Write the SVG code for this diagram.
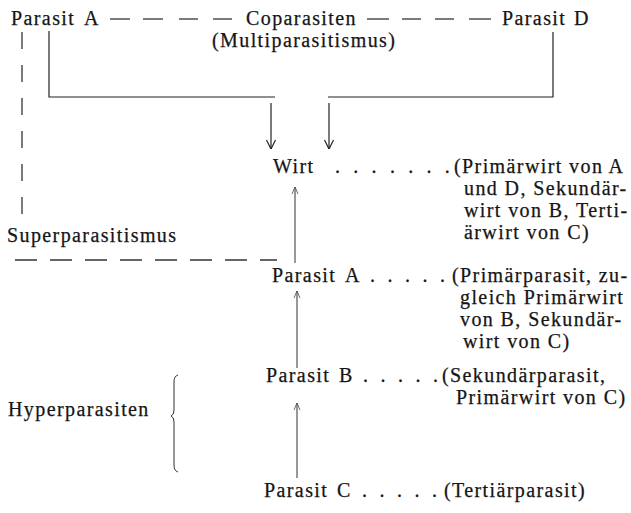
<svg xmlns="http://www.w3.org/2000/svg" width="631" height="513" viewBox="0 0 631 513">
<style>
text{font-family:"Liberation Serif","Times New Roman",serif;font-size:20px;letter-spacing:1.4px;fill:#151515;stroke:#151515;stroke-width:0.25}
.ln{stroke:#222;stroke-width:1.2;fill:none}
.thin{stroke:#333;stroke-width:1;fill:none}
.dsh{stroke:#333;stroke-width:1.3;fill:none}
</style>
<defs>
<marker id="hd" viewBox="0 0 10 10" refX="10" refY="5" markerWidth="10" markerHeight="10" markerUnits="userSpaceOnUse" orient="auto">
<path d="M1,0.5 L10,5 L1,9.5" fill="none" stroke="#222" stroke-width="1.2"/>
</marker>
<marker id="hu" viewBox="0 0 10 8" refX="10" refY="4" markerWidth="10" markerHeight="8" markerUnits="userSpaceOnUse" orient="auto">
<path d="M3,1 L10,4 L3,7" fill="none" stroke="#444" stroke-width="0.8"/>
</marker>
</defs>
<rect width="631" height="513" fill="#fff"/>

<g id="connectors">
<line class="dsh" x1="110" y1="19" x2="130" y2="19"/>
<line class="dsh" x1="143" y1="19" x2="163" y2="19"/>
<line class="dsh" x1="179" y1="19" x2="198" y2="19"/>
<line class="dsh" x1="213" y1="19" x2="232" y2="19"/>
<line class="dsh" x1="367" y1="19" x2="389" y2="19"/>
<line class="dsh" x1="402" y1="19" x2="421" y2="19"/>
<line class="dsh" x1="435" y1="19" x2="454" y2="19"/>
<line class="dsh" x1="469" y1="19" x2="491" y2="19"/>
<line class="dsh" x1="22" y1="32" x2="22" y2="222" stroke-dasharray="17 16"/>
<line class="dsh" x1="15" y1="260" x2="277" y2="260" stroke-dasharray="22 13"/>
<polyline class="ln" points="49,31 49,97 275,97"/>
<polyline class="ln" points="328,97 553,97 553,32"/>
<line class="ln" x1="271" y1="103" x2="271" y2="149" marker-end="url(#hd)"/>
<line class="ln" x1="329" y1="103" x2="329" y2="149" marker-end="url(#hd)"/>
<line class="thin" x1="295" y1="263" x2="295" y2="187" marker-end="url(#hu)"/>
<line class="thin" x1="297" y1="368" x2="297" y2="291" marker-end="url(#hu)"/>
<line class="thin" x1="297" y1="478" x2="297" y2="403" marker-end="url(#hu)"/>
<path class="thin" d="M178,375 Q174,376 174,382 L174,410 Q174,415 171,416 Q174,417 174,422 L174,465 Q174,471 178,472"/>
</g>

<g id="top-parasit-a"><text x="11" y="25">Parasit</text><text x="84" y="25">A</text></g>
<g id="coparasiten"><text x="246" y="25">Coparasiten</text><text x="212" y="47">(Multiparasitismus)</text></g>
<g id="top-parasit-d"><text x="502" y="25">Parasit</text><text x="574" y="25">D</text></g>
<g id="superparasitismus"><text x="7" y="242">Superparasitismus</text></g>

<g id="wirt">
<text x="273" y="173">Wirt</text>
<text x="335 353.3 371.6 389.9 408.2 426.5 444.8" y="173">.......</text>
<text x="454" y="173">(Primärwirt von A</text>
<text x="464" y="195">und D, Sekundär-</text>
<text x="464" y="217">wirt von B, Terti-</text>
<text x="464" y="239">ärwirt von C)</text>
</g>

<g id="parasit-a">
<text x="272" y="282">Parasit</text><text x="345" y="282">A</text>
<text x="370 387.5 405 422.5 440" y="282">.....</text>
<text x="452" y="282">(Primärparasit, zu-</text>
<text x="460" y="304">gleich Primärwirt</text>
<text x="460" y="326">von B, Sekundär-</text>
<text x="463" y="348">wirt von C)</text>
</g>

<g id="parasit-b">
<text x="266" y="382">Parasit</text><text x="339" y="382">B</text>
<text x="363 380.5 398 415.5 433" y="382">.....</text>
<text x="442" y="382">(Sekundärparasit,</text>
<text x="456" y="404">Primärwirt von C)</text>
</g>

<g id="hyperparasiten"><text x="8" y="416">Hyperparasiten</text></g>

<g id="parasit-c">
<text x="264" y="497">Parasit</text><text x="337" y="497">C</text>
<text x="362 379.5 397 414.5 432" y="497">.....</text>
<text x="444" y="497">(Tertiärparasit)</text>
</g>
</svg>
